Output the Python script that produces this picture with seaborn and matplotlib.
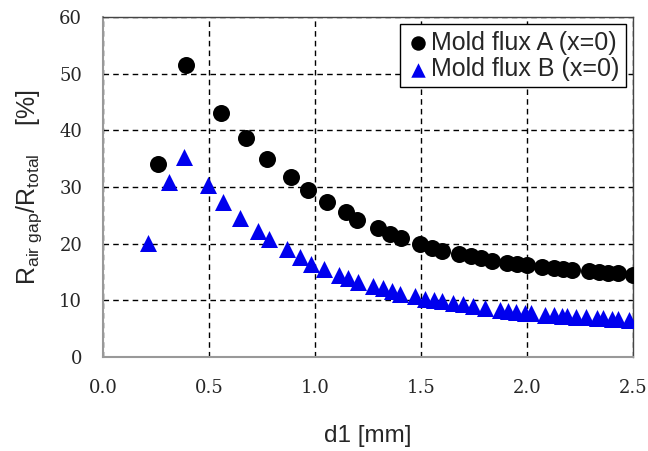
import matplotlib
matplotlib.use("Agg")
import matplotlib.pyplot as plt
import seaborn as sns
import pandas as pd

# Mold flux A (x=0)
d1_a = [0.26, 0.39, 0.557, 0.675, 0.773, 0.886, 0.967, 1.057, 1.146, 1.197,
        1.297, 1.354, 1.405, 1.495, 1.552, 1.599, 1.679, 1.735, 1.783, 1.835,
        1.906, 1.951, 1.999, 2.07, 2.127, 2.17, 2.21, 2.29, 2.34, 2.38, 2.43, 2.5]
ratio_a = [34.0, 51.5, 43.0, 38.6, 35.0, 31.8, 29.5, 27.4, 25.6, 24.2,
           22.8, 21.7, 21.0, 20.0, 19.3, 18.7, 18.2, 17.8, 17.4, 17.0,
           16.6, 16.4, 16.2, 15.9, 15.7, 15.6, 15.4, 15.2, 15.0, 14.9, 14.8, 14.5]

# Mold flux B (x=0)
d1_b = [0.21, 0.31, 0.38, 0.495, 0.566, 0.646, 0.731, 0.783, 0.868, 0.929,
        0.981, 1.043, 1.113, 1.157, 1.202, 1.272, 1.322, 1.362, 1.40, 1.47,
        1.52, 1.56, 1.60, 1.65, 1.70, 1.745, 1.80, 1.87, 1.91, 1.95,
        1.99, 2.02, 2.085, 2.125, 2.165, 2.19, 2.23, 2.28, 2.33, 2.36,
        2.40, 2.43, 2.48]
ratio_b = [20.2, 30.8, 35.3, 30.3, 27.4, 24.6, 22.3, 20.8, 19.0, 17.6,
           16.4, 15.5, 14.5, 13.9, 13.3, 12.5, 12.1, 11.6, 11.2, 10.7,
           10.3, 10.0, 9.8, 9.5, 9.3, 9.0, 8.7, 8.3, 8.1, 7.9,
           7.8, 7.7, 7.5, 7.4, 7.2, 7.2, 7.1, 7.0, 6.9, 6.8,
           6.7, 6.7, 6.6]

label_a = "Mold flux A (x=0)"
label_b = "Mold flux B (x=0)"

x_ticks = [0.0, 0.5, 1.0, 1.5, 2.0, 2.5]
y_ticks = [0, 10, 20, 30, 40, 50, 60]

sns.set_style("white")
plt.rcParams['font.family'] = ['Liberation Sans', 'DejaVu Sans']
plt.rcParams['mathtext.fontset'] = 'custom'
plt.rcParams['mathtext.rm'] = 'Liberation Sans'
plt.rcParams['mathtext.it'] = 'Liberation Sans:italic'

df_a = pd.DataFrame({"d1": d1_a, "ratio": ratio_a})
df_b = pd.DataFrame({"d1": d1_b, "ratio": ratio_b})

fig = plt.figure(figsize=(6.48, 4.51), dpi=100)
ax = fig.add_axes([0.159, 0.2084, 0.818, 0.754])

ax.grid(True, color="black", linestyle=(0, (4, 3)), linewidth=1.0, zorder=0)
ax.set_axisbelow(True)

sns.scatterplot(data=df_a, x="d1", y="ratio", ax=ax, marker="o", s=150,
                color="black", edgecolor="black", linewidth=0, label=label_a, zorder=3)
sns.scatterplot(data=df_b, x="d1", y="ratio", ax=ax, marker="^", s=150,
                color="#0000EE", edgecolor="#0000EE", linewidth=0, label=label_b, zorder=3)

ax.set_xlim(0, 2.5)
ax.set_ylim(0, 60)
ax.set_xticks(x_ticks)
ax.set_yticks(y_ticks)
ax.set_xticklabels([f"{v:.1f}" for v in x_ticks], family="DejaVu Serif", fontsize=13)
ax.set_yticklabels([str(v) for v in y_ticks], family="DejaVu Serif", fontsize=13)
ax.tick_params(axis="both", direction="in", length=4, width=1, color="#555555")
ax.tick_params(axis="x", pad=16)
ax.tick_params(axis="y", pad=15)

for side in ["left", "bottom"]:
    ax.spines[side].set_color("#999999")
    ax.spines[side].set_linewidth(1.5)
for side in ["top", "right"]:
    ax.spines[side].set_color("#444444")
    ax.spines[side].set_linewidth(1.0)

ax.set_xlabel("d1 [mm]", fontsize=17.5, labelpad=20)
ax.set_ylabel(r"$\mathregular{R_{air\ gap}/R_{total}}$    [%]", fontsize=18, labelpad=11)

leg = ax.legend(loc="upper right", fontsize=18, frameon=True, fancybox=False,
                edgecolor="black", framealpha=1, handletextpad=0.0,
                handlelength=1.0, borderpad=0.25, borderaxespad=0.3,
                labelspacing=0.1, markerscale=0.85)
leg.get_frame().set_linewidth(1.0)

fig.savefig("out.png", dpi=100, facecolor="white")
